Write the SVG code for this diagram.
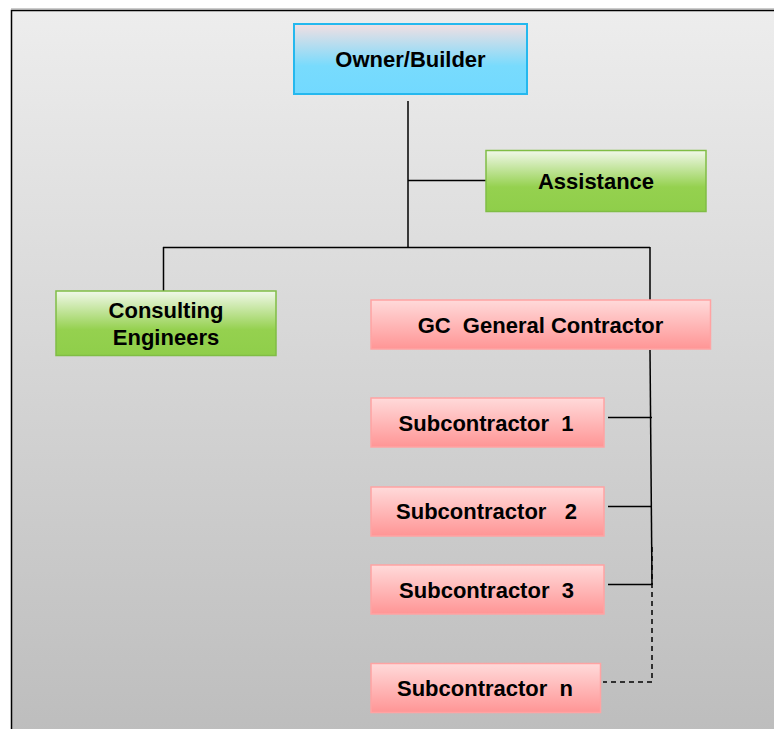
<svg xmlns="http://www.w3.org/2000/svg" width="774" height="729" viewBox="0 0 774 729">
<defs>
<linearGradient id="bg" x1="0" y1="0" x2="0" y2="1">
<stop offset="0" stop-color="#ededed"/>
<stop offset="1" stop-color="#bcbcbc"/>
</linearGradient>
<linearGradient id="blue" x1="0" y1="0" x2="0" y2="1">
<stop offset="0" stop-color="#f3dfe2"/>
<stop offset="0.6" stop-color="#78dbfd"/>
<stop offset="1" stop-color="#72d9ff"/>
</linearGradient>
<linearGradient id="green" x1="0" y1="0" x2="0" y2="1">
<stop offset="0" stop-color="#f1f8ea"/>
<stop offset="0.6" stop-color="#95d14f"/>
<stop offset="1" stop-color="#8fce4a"/>
</linearGradient>
<linearGradient id="pink" x1="0" y1="0" x2="0" y2="1">
<stop offset="0" stop-color="#ffdada"/>
<stop offset="1" stop-color="#ff9595"/>
</linearGradient>
</defs>
<style>
.t{font-family:"Liberation Sans",Arial,sans-serif;font-weight:bold;font-size:22px;fill:#000;text-anchor:middle;white-space:pre}
.b{fill:url(#blue);stroke:#25b8ee;stroke-width:2}
.g{fill:url(#green);stroke:#80bd45;stroke-width:1.5}
.p{fill:url(#pink);stroke:#ffa3a3;stroke-width:1.5}
.c{fill:none;stroke:#000;stroke-width:1.5}
.d{fill:none;stroke:#000;stroke-width:1.5;stroke-dasharray:5,4}
</style>
<rect x="0" y="0" width="774" height="729" fill="#fff"/>
<rect x="11.5" y="10.5" width="780" height="740" fill="url(#bg)" stroke="#000" stroke-width="1.5"/>
<line x1="11" y1="9" x2="774" y2="9" stroke="#999" stroke-width="1"/>
<g id="connectors">
<path class="c" d="M408,101 V247"/>
<path class="c" d="M408,180.5 H486"/>
<path class="c" d="M163,247.5 H650 M163.5,247 V291 M650,247 V300"/>
<path class="c" d="M650,350 L652,585"/>
<path class="c" d="M608,417.5 H652 M608,506.5 H652 M608,584.5 H652"/>
<path class="d" d="M652,547 V682 H603"/>
</g>
<g id="owner">
<rect class="b" x="294" y="24" width="233" height="70"/>
<text class="t" x="410.5" y="67">Owner/Builder</text>
</g>
<g id="assistance">
<rect class="g" x="486" y="150.5" width="220" height="61"/>
<text class="t" x="596" y="189">Assistance</text>
</g>
<g id="consulting">
<rect class="g" x="56" y="291" width="220" height="64.5"/>
<text class="t" x="166" y="318">Consulting</text>
<text class="t" x="166" y="345">Engineers</text>
</g>
<g id="gc">
<rect class="p" x="371" y="300" width="339.5" height="49"/>
<text class="t" x="540.5" y="333">GC  General Contractor</text>
</g>
<g id="sub1">
<rect class="p" x="371" y="398" width="233" height="49"/>
<text class="t" x="486" y="431">Subcontractor  1</text>
</g>
<g id="sub2">
<rect class="p" x="371" y="487" width="233" height="49"/>
<text class="t" x="486.5" y="519">Subcontractor   2</text>
</g>
<g id="sub3">
<rect class="p" x="371" y="565" width="233" height="49"/>
<text class="t" x="486.5" y="597.5">Subcontractor  3</text>
</g>
<g id="subn">
<rect class="p" x="371" y="663.5" width="229.5" height="49"/>
<text class="t" x="485" y="696">Subcontractor  n</text>
</g>
</svg>
